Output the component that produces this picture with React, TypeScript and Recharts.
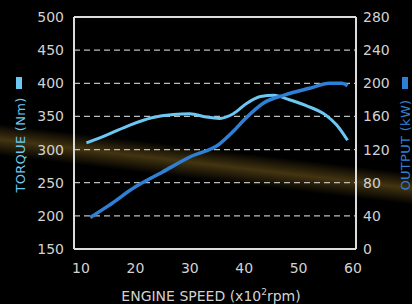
import React from "react";
import { LineChart, Line, XAxis, YAxis, CartesianGrid, ReferenceLine } from "recharts";

const rpmTicks = [10, 20, 30, 40, 50, 60];
const torqueTicks = [150, 200, 250, 300, 350, 400, 450, 500];
const outputTicks = [0, 40, 80, 120, 160, 200, 240, 280];

const torqueRpm = [11, 15, 19, 23, 27, 30, 33, 35.5, 38, 40.5, 43, 45.5, 48, 51.5, 55, 57, 59];
const torqueNm = [310, 323, 337, 348, 353, 354, 349, 347, 354, 370, 380, 382, 376, 366, 352, 337, 314];

const outputRpm = [11.7, 15, 20, 25, 30, 35.5, 38, 40, 43.5, 47.5, 52, 55.7, 58, 59];
const outputKw = [38, 52, 75, 93, 111, 127, 142, 156, 176, 186, 194, 200, 200, 197];

const TORQUE_COLOR = "#6cc8f2";
const OUTPUT_COLOR = "#2f80d4";
const TEXT_COLOR = "#d2d2d2";
const FONT = "'DejaVu Sans', Arial, sans-serif";

const torqueData = torqueRpm.map((rpm, i) => ({ rpm, torque: torqueNm[i] }));
const outputData = outputRpm.map((rpm, i) => ({ rpm, output: outputKw[i] }));

function TorqueLabel(props: any) {
  const { viewBox } = props;
  const cx = viewBox.x + 20;
  return (
    <g>
      <rect x={cx - 4} y={77} width={6} height={12} fill={TORQUE_COLOR} />
      <text
        x={cx}
        y={145}
        transform={`rotate(-90 ${cx} 145)`}
        textAnchor="middle"
        dominantBaseline="central"
        fill={TORQUE_COLOR}
        fontSize={13}
        fontFamily={FONT}
        letterSpacing={0.3}
      >
        TORQUE (Nm)
      </text>
    </g>
  );
}

function OutputLabel(props: any) {
  const { viewBox } = props;
  const cx = viewBox.x + 49;
  return (
    <g>
      <rect x={cx - 3} y={77} width={6} height={12} fill={OUTPUT_COLOR} />
      <text
        x={cx}
        y={145}
        transform={`rotate(-90 ${cx} 145)`}
        textAnchor="middle"
        dominantBaseline="central"
        fill={OUTPUT_COLOR}
        fontSize={13}
        fontFamily={FONT}
        letterSpacing={0.3}
      >
        OUTPUT (kW)
      </text>
    </g>
  );
}

function SpeedLabel(props: any) {
  const { viewBox } = props;
  const cx = viewBox.x + viewBox.width / 2 - 4;
  return (
    <text x={cx} y={301} textAnchor="middle" fill={TEXT_COLOR} fontSize={14} fontFamily={FONT}>
      ENGINE SPEED (x10
      <tspan fontSize={9} dy={-6}>2</tspan>
      <tspan dy={6}>rpm)</tspan>
    </text>
  );
}

export default function App() {
  const tick = { fill: TEXT_COLOR, fontSize: 14, fontFamily: FONT };
  return (
    <div
      style={{
        position: "absolute",
        left: 0,
        top: 0,
        width: 412,
        height: 304,
        background:
          "linear-gradient(186.8deg, rgba(0,0,0,0) 49%, rgba(112,88,28,0.6) 53.4%, rgba(0,0,0,0) 58%), #000",
      }}
    >
      <LineChart width={412} height={304} data={torqueData} margin={{ top: 17, right: 0, bottom: 0, left: 0 }}>
        <CartesianGrid
          vertical={false}
          yAxisId="left"
          stroke="#bdbdbd"
          strokeDasharray="6 4"
          strokeWidth={1.2}
        />
        <XAxis
          dataKey="rpm"
          type="number"
          domain={[10, 60]}
          ticks={rpmTicks}
          padding={{ left: 7, right: 3 }}
          height={55}
          tickLine={false}
          tickSize={0}
          tickMargin={14}
          tick={tick}
          axisLine={{ stroke: "#dcdcdc", strokeWidth: 2 }}
          allowDuplicatedCategory={false}
          label={<SpeedLabel />}
        />
        <YAxis
          yAxisId="left"
          orientation="left"
          domain={[150, 500]}
          ticks={torqueTicks}
          width={74}
          tickLine={false}
          tickSize={0}
          tickMargin={10}
          tick={tick}
          axisLine={{ stroke: "#dcdcdc", strokeWidth: 2 }}
          label={<TorqueLabel />}
        />
        <YAxis
          yAxisId="right"
          orientation="right"
          domain={[0, 280]}
          ticks={outputTicks}
          width={56}
          tickLine={false}
          tickSize={0}
          tickMargin={7}
          tick={{ ...tick, textAnchor: "start" }}
          axisLine={{ stroke: "#dcdcdc", strokeWidth: 2 }}
          label={<OutputLabel />}
        />
        <ReferenceLine yAxisId="left" y={500} stroke="#dcdcdc" strokeWidth={2} />
        <Line
          yAxisId="left"
          data={torqueData}
          dataKey="torque"
          type="monotone"
          stroke={TORQUE_COLOR}
          strokeWidth={3}
          dot={false}
          isAnimationActive={false}
        />
        <Line
          yAxisId="right"
          data={outputData}
          dataKey="output"
          type="monotone"
          stroke={OUTPUT_COLOR}
          strokeWidth={3.5}
          dot={false}
          isAnimationActive={false}
        />
      </LineChart>
    </div>
  );
}
